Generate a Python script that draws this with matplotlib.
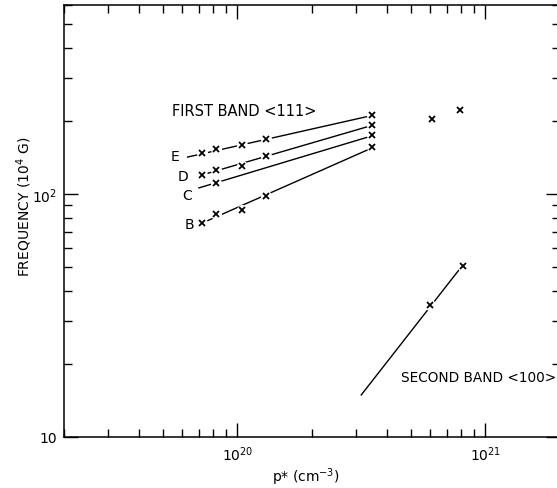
import numpy as np
import matplotlib
matplotlib.use("Agg")
import matplotlib.pyplot as plt
from matplotlib.ticker import LogLocator, NullFormatter

# carrier density p* (cm^-3) and frequency (10^4 G)
b_x = [7.2e19, 8.2e19, 1.04e20, 1.31e20, 3.5e20]
b_y = [75.9, 82.7, 85.9, 98.1, 156]
c_x = [8.2e19, 3.5e20]
c_y = [111, 175]
d_x = [7.2e19, 8.2e19, 1.04e20, 1.31e20, 3.5e20]
d_y = [119.8, 125.6, 130.5, 143.6, 193]
e_x = [7.2e19, 8.2e19, 1.04e20, 1.31e20, 3.5e20]
e_y = [147.7, 153, 159, 169, 212]
# lone points at high density
extra_x = [6.1e20, 7.9e20]
extra_y = [204, 222]
# second band
s_x = [6.0e20, 8.1e20]
s_y = [34.8, 50.4]

# straight fit lines (start, end)
b_line_x, b_line_y = [7.2e19, 3.45e20], [75.9, 154]
c_line_x, c_line_y = [7.0e19, 3.45e20], [106, 173]
d_line_x, d_line_y = [7.2e19, 3.45e20], [119.8, 191]
e_line_x, e_line_y = [6.3e19, 3.45e20], [142, 210]
s_line_x, s_line_y = [3.16e20, 7.8e20], [14.9, 48.5]

fig = plt.figure(figsize=(5.57, 4.89), dpi=100)
ax = fig.add_axes([64/557, 51/489, 496/557, 432/489])

lines = [(b_line_x, b_line_y), (c_line_x, c_line_y), (d_line_x, d_line_y),
         (e_line_x, e_line_y), (s_line_x, s_line_y)]
for lx, ly in lines:
    ax.plot(lx, ly, color='black', lw=1.0, zorder=2)

pts = [(b_x, b_y), (c_x, c_y), (d_x, d_y), (e_x, e_y), (extra_x, extra_y), (s_x, s_y)]
for px, py in pts:
    # white blob under each cross so the line looks broken at the marker
    ax.plot(px, py, 'o', color='white', ms=8, mew=0, zorder=3)
    ax.plot(px, py, 'x', color='black', ms=4, mew=1.3, zorder=4)

ax.text(5.62e19, 143.5, 'E', ha='center', va='center', fontsize=10)
ax.text(6.05e19, 118.7, 'D', ha='center', va='center', fontsize=10)
ax.text(6.28e19, 99, 'C', ha='center', va='center', fontsize=10)
ax.text(6.4e19, 75.2, 'B', ha='center', va='center', fontsize=10)
ax.text(5.47e19, 220, 'FIRST BAND <111>', ha='left', va='center', fontsize=10.5)
ax.text(4.55e20, 17.7, 'SECOND BAND <100>', ha='left', va='center', fontsize=9.8)

ax.set_xscale('log')
ax.set_yscale('log')
ax.set_xlim(2e19, 2e21)
ax.set_ylim(10, 600)

ax.set_xticks([1e20, 1e21], ['$10^{20}$', '$10^{21}$'])
ax.set_yticks([10, 100], ['10', '$10^2$'])
ax.xaxis.set_minor_locator(LogLocator(base=10, subs=np.arange(2, 10)))
ax.yaxis.set_minor_locator(LogLocator(base=10, subs=np.arange(2, 10)))
ax.xaxis.set_minor_formatter(NullFormatter())
ax.yaxis.set_minor_formatter(NullFormatter())

ax.tick_params(which='both', direction='in', top=True, right=True, width=1.0)
ax.tick_params(which='major', length=10, labelsize=10, pad=5)
ax.tick_params(which='minor', length=6)
for sp in ax.spines.values():
    sp.set_linewidth(1.1)

ax.set_xlabel('p* (cm$^{-3}$)', fontsize=10)
ax.set_ylabel('FREQUENCY (10$^4$ G)', fontsize=10)
ax.xaxis.set_label_coords(0.488, -0.066)
ax.yaxis.set_label_coords(-0.060, 0.535)

fig.savefig('out.png', dpi=100)
